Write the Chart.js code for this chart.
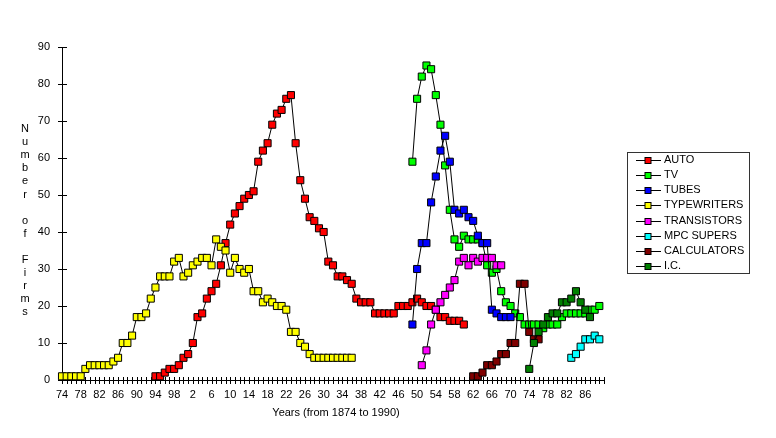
<!DOCTYPE html>
<html>
<head>
<meta charset="utf-8">
<script src="https://cdn.jsdelivr.net/npm/chart.js@4.4.0/dist/chart.umd.min.js"></script>
<style>
  html, body { margin: 0; padding: 0; background: #fff; }
  #wrap { width: 776px; height: 438px; }
</style>
</head>
<body>
<div id="wrap"><canvas id="firmsChart" width="776" height="438"></canvas></div>
<script>
// Number of firms per year. Each series starts at its own first year.
let autoStart = 1894;
let autoFirms = [1, 1, 2, 3, 3, 4, 6, 7, 10, 17, 18, 22, 24, 26, 31, 37, 42, 45, 47, 49,
  50, 51, 59, 62, 64, 69, 72, 73, 76, 77, 64, 54, 49, 44, 43, 41, 40, 32, 31, 28,
  28, 27, 26, 22, 21, 21, 21, 18, 18, 18, 18, 18, 20, 20, 20, 21, 22, 21, 20, 20,
  19, 17, 17, 16, 16, 16, 15];

let tvStart = 1949;
let tvFirms = [59, 76, 82, 85, 84, 77, 69, 58, 46, 38, 36, 39, 38, 38, 38, 37, 31, 29, 30, 24,
  21, 20, 18, 17, 15, 15, 15, 15, 14, 15, 15, 15, 17, 18, 18, 18, 18, 18, 19, 19, 20];

let tubesStart = 1949;
let tubesFirms = [15, 30, 37, 37, 48, 55, 62, 66, 59, 46, 45, 46, 44, 43, 39, 37, 37, 19, 18, 17, 17, 17];

let typewritersStart = 1874;
let typewritersFirms = [1, 1, 1, 1, 1, 3, 4, 4, 4, 4, 4, 5, 6, 10, 10, 12, 17, 17, 18, 22,
  25, 28, 28, 28, 32, 33, 28, 29, 31, 32, 33, 33, 31, 38, 36, 35, 29, 33, 30, 29,
  30, 24, 24, 21, 22, 21, 20, 20, 19, 13, 13, 10, 9, 7, 6, 6, 6, 6, 6, 6, 6, 6, 6];

let transistorsStart = 1951;
let transistorsFirms = [4, 8, 15, 19, 21, 23, 25, 27, 32, 33, 31, 33, 32, 33, 33, 33, 31, 31];

let mpcStart = 1983;
let mpcFirms = [6, 7, 9, 11, 11, 12, 11];

let calculatorsStart = 1962;
let calculatorsFirms = [1, 1, 2, 4, 4, 5, 7, 7, 10, 10, 26, 26, 13, 11, 11];

let icStart = 1974;
let icFirms = [3, 10, 13, 15, 17, 18, 18, 21, 21, 22, 24, 21, 19, 17];

let seriesNames = ["AUTO", "TV", "TUBES", "TYPEWRITERS", "TRANSISTORS", "MPC SUPERS", "CALCULATORS", "I.C."];
let seriesColors = ["#ff0000", "#00ff00", "#0000ff", "#ffff00", "#ff00ff", "#00ffff", "#800000", "#008000"];
let seriesStarts = [autoStart, tvStart, tubesStart, typewritersStart, transistorsStart, mpcStart, calculatorsStart, icStart];
let seriesValues = [autoFirms, tvFirms, tubesFirms, typewritersFirms, transistorsFirms, mpcFirms, calculatorsFirms, icFirms];

// x axis labels, one every 4 years
let tickYears = [1874, 1878, 1882, 1886, 1890, 1894, 1898, 1902, 1906, 1910, 1914, 1918, 1922, 1926, 1930,
  1934, 1938, 1942, 1946, 1950, 1954, 1958, 1962, 1966, 1970, 1974, 1978, 1982, 1986];
let tickLabels = ["74", "78", "82", "86", "90", "94", "98", "2", "6", "10", "14", "18", "22", "26", "30",
  "34", "38", "42", "46", "50", "54", "58", "62", "66", "70", "74", "78", "82", "86"];

let yTitle = "Number of Firms";
let xTitle = "Years (from 1874 to 1990)";

let fontName = "'Liberation Sans', Arial, sans-serif";

function toPoints(start, values) {
  return values.map(function (v, i) { return { x: start + i, y: v }; });
}

let datasets = seriesNames.map(function (name, i) {
  return {
    label: name,
    data: toPoints(seriesStarts[i], seriesValues[i]),
    borderColor: "#000",
    borderWidth: 1,
    backgroundColor: seriesColors[i],
    pointStyle: "rect",
    pointRadius: 5,
    pointBorderWidth: 1,
    pointBorderColor: "#000",
    pointBackgroundColor: seriesColors[i],
    tension: 0,
    clip: false,
    order: -i
  };
});

// year ticks crossing the axes, drawn under the markers
let axisTicks = {
  id: "axisTicks",
  beforeDatasetsDraw(chart) {
    let ctx = chart.ctx;
    let xs = chart.scales.x;
    let ys = chart.scales.y;
    let area = chart.chartArea;
    ctx.save();
    ctx.strokeStyle = "#000";
    ctx.lineWidth = 1;
    ctx.beginPath();
    for (let yr = 1874; yr <= 1990; yr++) {
      let px = Math.round(xs.getPixelForValue(yr)) + 0.5;
      ctx.moveTo(px, area.bottom - 3);
      ctx.lineTo(px, area.bottom + 4);
    }
    for (let v = 0; v <= 90; v += 10) {
      let py = Math.round(ys.getPixelForValue(v)) + 0.5;
      ctx.moveTo(area.left - 4, py);
      ctx.lineTo(area.left + 5, py);
    }
    ctx.stroke();
    ctx.restore();
  }
};

// titles and the boxed legend
let titlesAndLegend = {
  id: "titlesAndLegend",
  afterDraw(chart) {
    let ctx = chart.ctx;
    ctx.save();
    ctx.fillStyle = "#000";
    ctx.font = "11px " + fontName;
    ctx.textAlign = "center";
    ctx.textBaseline = "middle";
    for (let i = 0; i < yTitle.length; i++) {
      ctx.fillText(yTitle[i], 25, 129 + i * 13.1);
    }
    ctx.fillText(xTitle, 336, 413);

    // legend
    ctx.strokeStyle = "#333";
    ctx.lineWidth = 1;
    ctx.strokeRect(627.5, 152.5, 122, 121);
    ctx.textAlign = "left";
    chart.data.datasets.forEach(function (ds, i) {
      let y = 159.5 + i * 15.25;
      let ly = Math.round(y) + 0.5;
      ctx.strokeStyle = "#000";
      ctx.beginPath();
      ctx.moveTo(636, ly);
      ctx.lineTo(661, ly);
      ctx.stroke();
      ctx.fillStyle = ds.pointBackgroundColor;
      ctx.fillRect(645, ly - 3, 6, 6);
      ctx.strokeRect(645, ly - 3, 6, 6);
      ctx.fillStyle = "#000";
      ctx.fillText(ds.label, 664, y);
    });
    ctx.restore();
  }
};

new Chart(document.getElementById("firmsChart"), {
  type: "line",
  data: { datasets: datasets },
  options: {
    responsive: false,
    animation: false,
    devicePixelRatio: 1,
    layout: { padding: { left: 0, top: 47, right: 172, bottom: 0 } },
    plugins: {
      legend: { display: false },
      tooltip: { enabled: false }
    },
    scales: {
      x: {
        type: "linear",
        min: 1874,
        max: 1990,
        grid: { display: false, drawTicks: false },
        border: { display: true, color: "#000", width: 1 },
        afterFit: function (scale) { scale.height = 58; },
        afterBuildTicks: function (scale) {
          scale.ticks = tickYears.map(function (yr) { return { value: yr }; });
        },
        ticks: {
          autoSkip: false,
          maxRotation: 0,
          padding: 8,
          color: "#000",
          font: { family: fontName, size: 11 },
          callback: function (value) {
            let k = tickYears.indexOf(value);
            return k >= 0 ? tickLabels[k] : "";
          }
        }
      },
      y: {
        min: 0,
        max: 90,
        grid: { display: false, drawTicks: false },
        border: { display: true, color: "#000", width: 1 },
        afterFit: function (scale) { scale.width = 62; },
        ticks: {
          stepSize: 10,
          padding: 12,
          color: "#000",
          font: { family: fontName, size: 11 }
        }
      }
    }
  },
  plugins: [axisTicks, titlesAndLegend]
});
</script>
</body>
</html>
